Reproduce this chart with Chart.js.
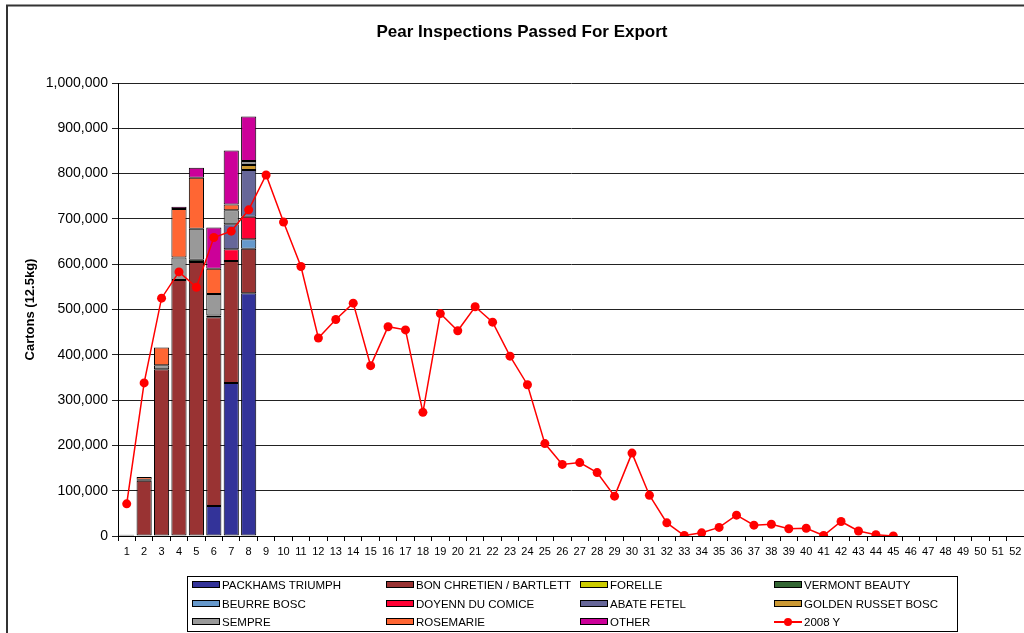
<!DOCTYPE html>
<html>
<head>
<meta charset="utf-8">
<title>Pear Inspections Passed For Export</title>
<script src="https://cdn.jsdelivr.net/npm/chart.js@4.4.0/dist/chart.umd.min.js"></script>
<style>
  body { margin: 0; background: #fff; }
  #wrap { position: relative; width: 1024px; height: 633px; overflow: hidden; }
  #legend {
    position: absolute; left: 187px; top: 576px; width: 771px; height: 56px;
    border: 1px solid #000; box-sizing: border-box;
    font-family: "Liberation Sans", Arial, sans-serif; font-size: 11.5px; color: #000;
  }
  .item { position: absolute; height: 18px; line-height: 18px; white-space: nowrap; padding-left: 30px; }
  .sw { position: absolute; left: 0; top: 5px; width: 28px; height: 7px; border: 1px solid #000; box-sizing: border-box; }
  .ln { position: absolute; left: 0; top: 8px; width: 28px; height: 2px; background: #f00; }
  .dot { position: absolute; left: 10px; top: 5px; width: 8px; height: 8px; border-radius: 50%; background: #f00; }
</style>
</head>
<body>
<div id="wrap">
  <canvas id="pearChart" width="1024" height="633"></canvas>
  <div id="legend"></div>
</div>
<script>
// week numbers
const weeks = ['1','2','3','4','5','6','7','8','9','10','11','12','13','14','15','16','17','18','19','20',
  '21','22','23','24','25','26','27','28','29','30','31','32','33','34','35','36','37','38','39','40',
  '41','42','43','44','45','46','47','48','49','50','51','52'];

// 2009 varieties, weeks 1-8 (cartons)
const packhams     = [null, null, null, null, null, 66000, 338000, 536000];
const bonChretien  = [3000, 122000, 368000, 565000, 605000, 417000, 269000, 98000];
const forelle      = [null, null, null, null, null, null, null, null];
const vermont      = [null, 2000, null, null, 5000, 4000, null, null];
const beurreBosc   = [null, null, null, null, null, null, null, 21000];
const doyenn       = [null, null, null, null, null, null, 26000, 50000];
const abateFetel   = [null, null, null, null, null, null, 55000, 103000];
const goldenRusset = [null, null, null, null, null, null, null, 11000];
const sempre       = [null, null, 9000, 50000, 68000, 47000, 31000, 9000];
const rosemarie    = [null, 6000, 39000, 107000, 113000, 56000, 13000, null];
const other        = [null, null, null, 5000, 22000, 91000, 119000, 98000];

// last season total
const y2008 = [71000, 338000, 525000, 583000, 549000, 659000, 673000, 720000, 797000, 693000,
  595000, 437000, 478000, 514000, 376000, 462000, 455000, 273000, 491000, 453000,
  506000, 472000, 397000, 334000, 204000, 158000, 162000, 140000, 88000, 183000,
  90000, 29000, 1000, 7000, 19000, 46000, 24000, 26000, 16000, 17000,
  1000, 32000, 11000, 3000, 0];

const yTicks = [0, 100000, 200000, 300000, 400000, 500000, 600000, 700000, 800000, 900000, 1000000];

const FONT = '"Liberation Sans", Arial, sans-serif';

function bar(label, data, color) {
  return {
    type: 'bar', label: label, data: data, backgroundColor: color,
    borderColor: '#000', borderWidth: 1, borderSkipped: false,
    stack: 'bars', order: 1,
    barPercentage: 0.87, categoryPercentage: 1
  };
}

const frame = {
  id: 'frame',
  beforeDraw(chart) {
    const ctx = chart.ctx;
    ctx.save();
    ctx.strokeStyle = '#333';
    ctx.lineWidth = 2;
    ctx.strokeRect(7, 5.5, 1200, 1000);
    ctx.restore();
  }
};

const chart = new Chart(document.getElementById('pearChart'), {
  data: {
    labels: weeks,
    datasets: [
      bar('PACKHAMS TRIUMPH', packhams, '#333399'),
      bar('BON CHRETIEN / BARTLETT', bonChretien, '#993333'),
      bar('FORELLE', forelle, '#CCCC00'),
      bar('VERMONT BEAUTY', vermont, '#336633'),
      bar('BEURRE BOSC', beurreBosc, '#6699CC'),
      bar('DOYENN DU COMICE', doyenn, '#FF0033'),
      bar('ABATE FETEL', abateFetel, '#666699'),
      bar('GOLDEN RUSSET BOSC', goldenRusset, '#CC9933'),
      bar('SEMPRE', sempre, '#999999'),
      bar('ROSEMARIE', rosemarie, '#FF6633'),
      bar('OTHER', other, '#CC0099'),
      {
        type: 'line', label: '2008 Y', data: y2008,
        borderColor: '#FF0000', backgroundColor: '#FF0000', borderWidth: 1.5,
        pointRadius: 4.5, pointBorderWidth: 0, tension: 0, fill: false,
        stack: 'line', order: 0
      }
    ]
  },
  options: {
    responsive: false,
    animation: false,
    layout: { autoPadding: false, padding: { left: 20, top: 0, right: 0, bottom: 73 } },
    plugins: {
      legend: { display: false },
      tooltip: { enabled: false },
      title: {
        display: true,
        text: 'Pear Inspections Passed For Export',
        color: '#000',
        font: { family: FONT, size: 17, weight: 'bold' },
        padding: { top: 22, bottom: 40.6 }
      }
    },
    scales: {
      x: {
        stacked: true,
        grid: { display: true, drawOnChartArea: false, drawTicks: true, tickLength: 5, color: '#000' },
        border: { display: true, color: '#000', width: 1 },
        ticks: { autoSkip: false, maxRotation: 0, padding: 4, color: '#000', font: { family: FONT, size: 11 } },
        afterFit(s) { s.height = 24; s.paddingLeft = 0; s.paddingRight = 0; }
      },
      y: {
        stacked: true,
        min: 0, max: 1000000,
        afterBuildTicks(s) { s.ticks = yTicks.map(v => ({ value: v })); },
        grid: { color: '#222', lineWidth: 1, tickLength: 6 },
        border: { display: true, color: '#000', width: 1 },
        ticks: {
          padding: 4, color: '#000', font: { family: FONT, size: 14 },
          callback: v => v.toLocaleString('en-US')
        },
        title: {
          display: true, text: 'Cartons (12.5kg)', color: '#000',
          font: { family: FONT, size: 13, weight: 'bold' },
          padding: { top: 3, bottom: 0 }
        },
        afterFit(s) { s.width = 98; }
      }
    }
  },
  plugins: [frame]
});

// legend box, 4 columns, built from the datasets
const legendEl = document.getElementById('legend');
chart.data.datasets.forEach((ds, i) => {
  const col = i % 4, row = Math.floor(i / 4);
  const item = document.createElement('div');
  item.className = 'item';
  item.style.left = (4 + col * 194) + 'px';
  item.style.top = (row * 18.5 - 1) + 'px';
  if (ds.type === 'line') {
    item.innerHTML = '<span class="ln"></span><span class="dot"></span>';
  } else {
    item.innerHTML = '<span class="sw" style="background:' + ds.backgroundColor + '"></span>';
  }
  item.appendChild(document.createTextNode(ds.label));
  legendEl.appendChild(item);
});
</script>
</body>
</html>
